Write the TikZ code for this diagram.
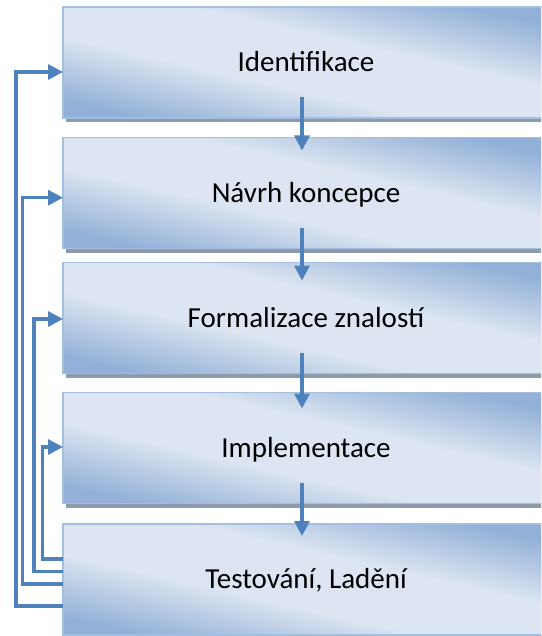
\documentclass[tikz,border=0pt]{standalone}
\usepackage{fontspec}
\setmainfont{Carlito}
\usetikzlibrary{arrows.meta,shadows,calc}

\definecolor{bdark}{HTML}{93B1D8}
\definecolor{blight}{HTML}{DCE5F1}
\definecolor{bedge}{HTML}{A2BEE0}
\definecolor{bshadow}{HTML}{8E9BAB}
\definecolor{flow}{HTML}{4F81BD}

% light band along one diagonal, darker towards the other two corners
\pgfdeclarehorizontalshading{band}{100bp}{%
  color(0bp)=(bdark); color(25bp)=(bdark);
  color(42bp)=(blight); color(58bp)=(blight);
  color(75bp)=(bdark); color(100bp)=(bdark)}

\begin{document}
\begin{tikzpicture}[x=1pt,y=-1pt,
  stage/.style={draw=bedge, line width=1.5pt, shade, shading=band,
    shading angle=77.2, minimum width=486pt, minimum height=111pt,
    inner sep=0pt, outer sep=0pt, text height=18.7pt, text depth=0pt,
    font=\fontsize{29}{34}\selectfont,
    general shadow={fill=bshadow, shadow xshift=3pt, shadow yshift=-4pt}},
  link/.style={draw=flow, line width=3.2pt,
    -{Triangle[length=15pt,width=15pt]}},
]
\useasboundingbox (0,0) rectangle (541,636);
\clip (0,0) rectangle (541,636);

% process stages
\node[stage] (b1) at (306,62.5) {Identifikace};
\node[stage] (b2) at (306,193)  {Návrh koncepce};
\node[stage] (b3) at (306,318)  {Formalizace znalostí};
\node[stage] (b4) at (306,448)  {Implementace};
\node[stage] (b5) at (306,579.5) {Testování, Ladění};

% forward flow
\draw[link] ($(b1.south)+(-4,-21)$) -- ($(b2.north)+(-4,13)$);
\draw[link] ($(b2.south)+(-4,-21)$) -- ($(b3.north)+(-4,18)$);
\draw[link] ($(b3.south)+(-4,-21)$) -- ($(b4.north)+(-4,16)$);
\draw[link] ($(b4.south)+(-4,-21)$) -- ($(b5.north)+(-4,12)$);

% feedback from testing back to every earlier stage
\draw[link] ($(b5.west)+(0,26.5)$) -- ++(-47,0)   |- ($(b1.west)+(0,9.5)$);
\draw[link] ($(b5.west)+(0,4.5)$)  -- ++(-40.3,0) |- ($(b2.west)+(0,4.7)$);
\draw[link] ($(b5.west)+(0,-7.8)$) -- ++(-29,0)   |- ($(b3.west)+(0,1)$);
\draw[link] ($(b5.west)+(0,-20.5)$) -- ++(-20.3,0) |- ($(b4.west)+(0,-1)$);
\end{tikzpicture}
\end{document}
